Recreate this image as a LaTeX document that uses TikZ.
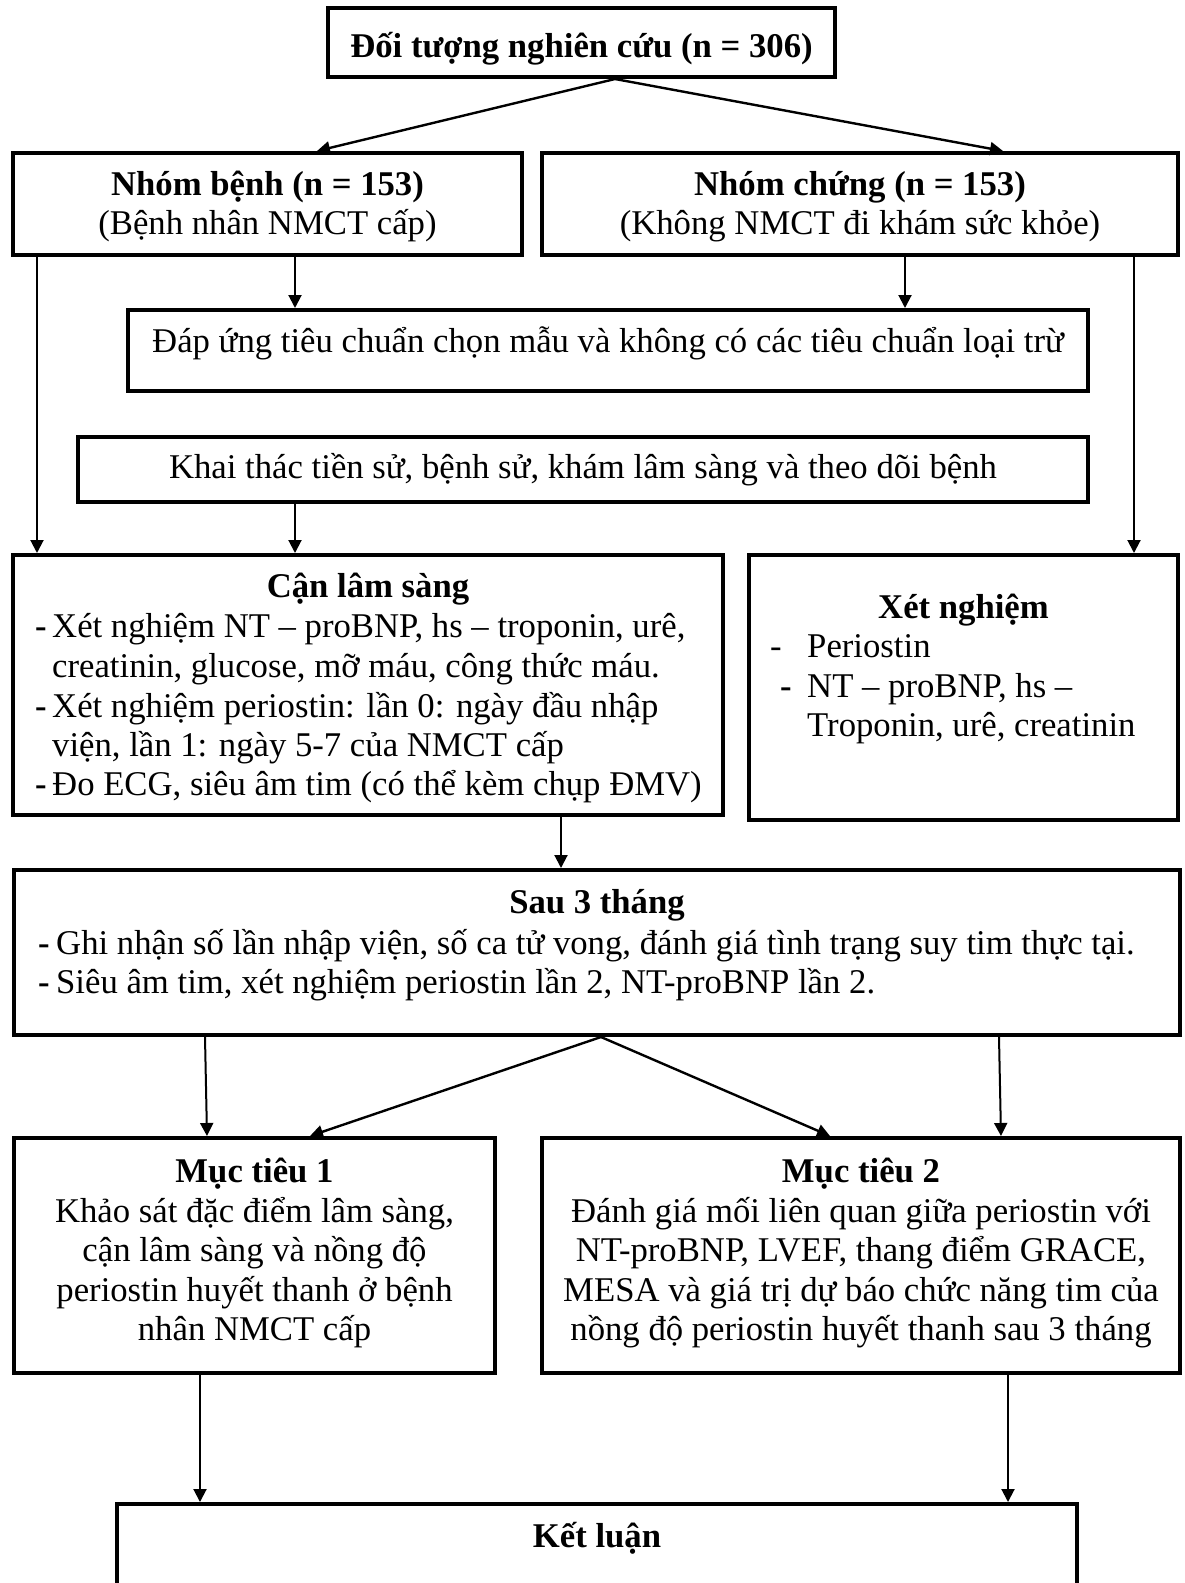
\documentclass[tikz,border=0pt]{standalone}
\usepackage{fontspec}
\setmainfont{Liberation Serif}
\usetikzlibrary{arrows.meta}
\begin{document}
\begin{tikzpicture}[x=1pt,y=-1pt,
  box/.style={draw, line width=4pt, rectangle, inner sep=0pt, outer sep=2pt},
  txt/.style={inner sep=0pt, font=\fontsize{34.7}{39.5}\selectfont, anchor=base},
  ltxt/.style={txt, anchor=base west},
  hd/.style={txt, font=\fontsize{34.7}{39.5}\selectfont\bfseries},
  arr/.style={line width=2pt, -{Triangle[length=13pt,width=13pt]}},
  sarr/.style={arr, line width=2.4pt}]
\useasboundingbox (0,0) rectangle (1185,1583);
\clip (0,0) rectangle (1185,1583);

% ---------- boxes ----------
\node[box, minimum width=507pt, minimum height=69pt]  (top)  at (581.5,42.5) {};
\node[box, minimum width=509pt, minimum height=102pt] (nb)   at (267.5,204) {};
\node[box, minimum width=636pt, minimum height=102pt] (nc)   at (860,204) {};
\node[box, minimum width=960pt, minimum height=81pt]  (dap)  at (608,350.5) {};
\node[box, minimum width=1010pt, minimum height=65pt] (khai) at (583,469.5) {};
\node[box, minimum width=710pt, minimum height=260pt] (can)  at (368,685) {};
\node[box, minimum width=429pt, minimum height=265pt] (xn)   at (963.5,687.5) {};
\node[box, minimum width=1166pt, minimum height=165pt](sau)  at (597,952.5) {};
\node[box, minimum width=481pt, minimum height=235pt] (mt1)  at (254.5,1255.5) {};
\node[box, minimum width=638pt, minimum height=235pt] (mt2)  at (861,1255.5) {};
\node[box, minimum width=960pt, minimum height=146pt] (kl)   at (597,1577) {};

% ---------- texts ----------
\node[hd] (topT) at (581.5,57) {Đối tượng nghiên cứu (n = 306)};

\node[hd]  (nbT)  at (267.5,195) {Nhóm bệnh (n = 153)};
\node[txt] (nbS)  at (267.5,234) {(Bệnh nhân NMCT cấp)};
\node[hd]  (ncT)  at (860,195) {Nhóm chứng (n = 153)};
\node[txt] (ncS)  at (860,234) {(Không NMCT đi khám sức khỏe)};

\node[txt] (dapT)  at (608,352) {Đáp ứng tiêu chuẩn chọn mẫu và không có các tiêu chuẩn loại trừ};
\node[txt] (khaiT) at (583,478) {Khai thác tiền sử, bệnh sử, khám lâm sàng và theo dõi bệnh};

\node[hd] (canT) at (368,597) {Cận lâm sàng};
\node[ltxt] (canB1) at (35,637) {\textbf{-}};
\node[ltxt] (canL1) at (52,637) {Xét nghiệm NT – proBNP, hs – troponin, urê,};
\node[ltxt] (canL2) at (52,677) {creatinin, glucose, mỡ máu, công thức máu.};
\node[ltxt] (canB3) at (35,717) {\textbf{-}};
\node[ltxt] (canL3) at (52,717) {Xét nghiệm periostin: lần 0: ngày đầu nhập};
\node[ltxt] (canL4) at (52,756) {viện, lần 1: ngày 5-7 của NMCT cấp};
\node[ltxt] (canB5) at (35,795) {\textbf{-}};
\node[ltxt] (canL5) at (52,795) {Đo ECG, siêu âm tim (có thể kèm chụp ĐMV)};

\node[hd] (xnT) at (963.5,618) {Xét nghiệm};
\node[ltxt] (xnB1) at (770,657) {-};
\node[ltxt] (xnL1) at (807,657) {Periostin};
\node[ltxt] (xnB2) at (780,697) {\textbf{-}};
\node[ltxt] (xnL2) at (807,697) {NT – proBNP, hs –};
\node[ltxt] (xnL3) at (807,736) {Troponin, urê, creatinin};

\node[hd] (sauT) at (597,913) {Sau 3 tháng};
\node[ltxt] (sauB1) at (38,954) {\textbf{-}};
\node[ltxt] (sauL1) at (56,954) {Ghi nhận số lần nhập viện, số ca tử vong, đánh giá tình trạng suy tim thực tại.};
\node[ltxt] (sauB2) at (38,993) {\textbf{-}};
\node[ltxt] (sauL2) at (56,993) {Siêu âm tim, xét nghiệm periostin lần 2, NT-proBNP lần 2.};

\node[hd]  (m1T) at (254.5,1182) {Mục tiêu 1};
\node[txt] (m1L1) at (254.5,1222) {Khảo sát đặc điểm lâm sàng,};
\node[txt] (m1L2) at (254.5,1261) {cận lâm sàng và nồng độ};
\node[txt] (m1L3) at (254.5,1301) {periostin huyết thanh ở bệnh};
\node[txt] (m1L4) at (254.5,1340) {nhân NMCT cấp};

\node[hd]  (m2T) at (861,1182) {Mục tiêu 2};
\node[txt] (m2L1) at (861,1222) {Đánh giá mối liên quan giữa periostin với};
\node[txt] (m2L2) at (861,1261) {NT-proBNP, LVEF, thang điểm GRACE,};
\node[txt] (m2L3) at (861,1301) {MESA và giá trị dự báo chức năng tim của};
\node[txt] (m2L4) at (861,1340) {nồng độ periostin huyết thanh sau 3 tháng};

\node[hd] (klT) at (597,1547) {Kết luận};

% ---------- connector columns ----------
\coordinate (xTop) at (615,0);
\coordinate (xNbIn) at (317,0);
\coordinate (xNcIn) at (1003,0);
\coordinate (xL) at (37,0);
\coordinate (xA) at (295,0);
\coordinate (xB) at (905,0);
\coordinate (xR) at (1134,0);
\coordinate (xC) at (561,0);
\coordinate (xS1) at (205,0);
\coordinate (xS1b) at (207,0);
\coordinate (xSm) at (601,0);
\coordinate (xM1In) at (310,0);
\coordinate (xM2In) at (830,0);
\coordinate (xS2) at (999,0);
\coordinate (xS2b) at (1001,0);
\coordinate (xK1) at (200,0);
\coordinate (xK2) at (1008,0);

% ---------- connectors ----------
\draw[sarr] (top.south -| xTop) -- (nb.north -| xNbIn);
\draw[sarr] (top.south -| xTop) -- (nc.north -| xNcIn);
\draw[arr] (nb.south -| xL) -- (can.north -| xL);
\draw[arr] (nb.south -| xA) -- (dap.north -| xA);
\draw[arr] (nc.south -| xB) -- (dap.north -| xB);
\draw[arr] (nc.south -| xR) -- (xn.north -| xR);
\draw[arr] (khai.south -| xA) -- (can.north -| xA);
\draw[arr] (can.south -| xC) -- (sau.north -| xC);
\draw[arr] (sau.south -| xS1) -- (mt1.north -| xS1b);
\draw[sarr] (sau.south -| xSm) -- (mt1.north -| xM1In);
\draw[sarr] (sau.south -| xSm) -- (mt2.north -| xM2In);
\draw[arr] (sau.south -| xS2) -- (mt2.north -| xS2b);
\draw[arr] (mt1.south -| xK1) -- (kl.north -| xK1);
\draw[arr] (mt2.south -| xK2) -- (kl.north -| xK2);
\end{tikzpicture}
\end{document}
